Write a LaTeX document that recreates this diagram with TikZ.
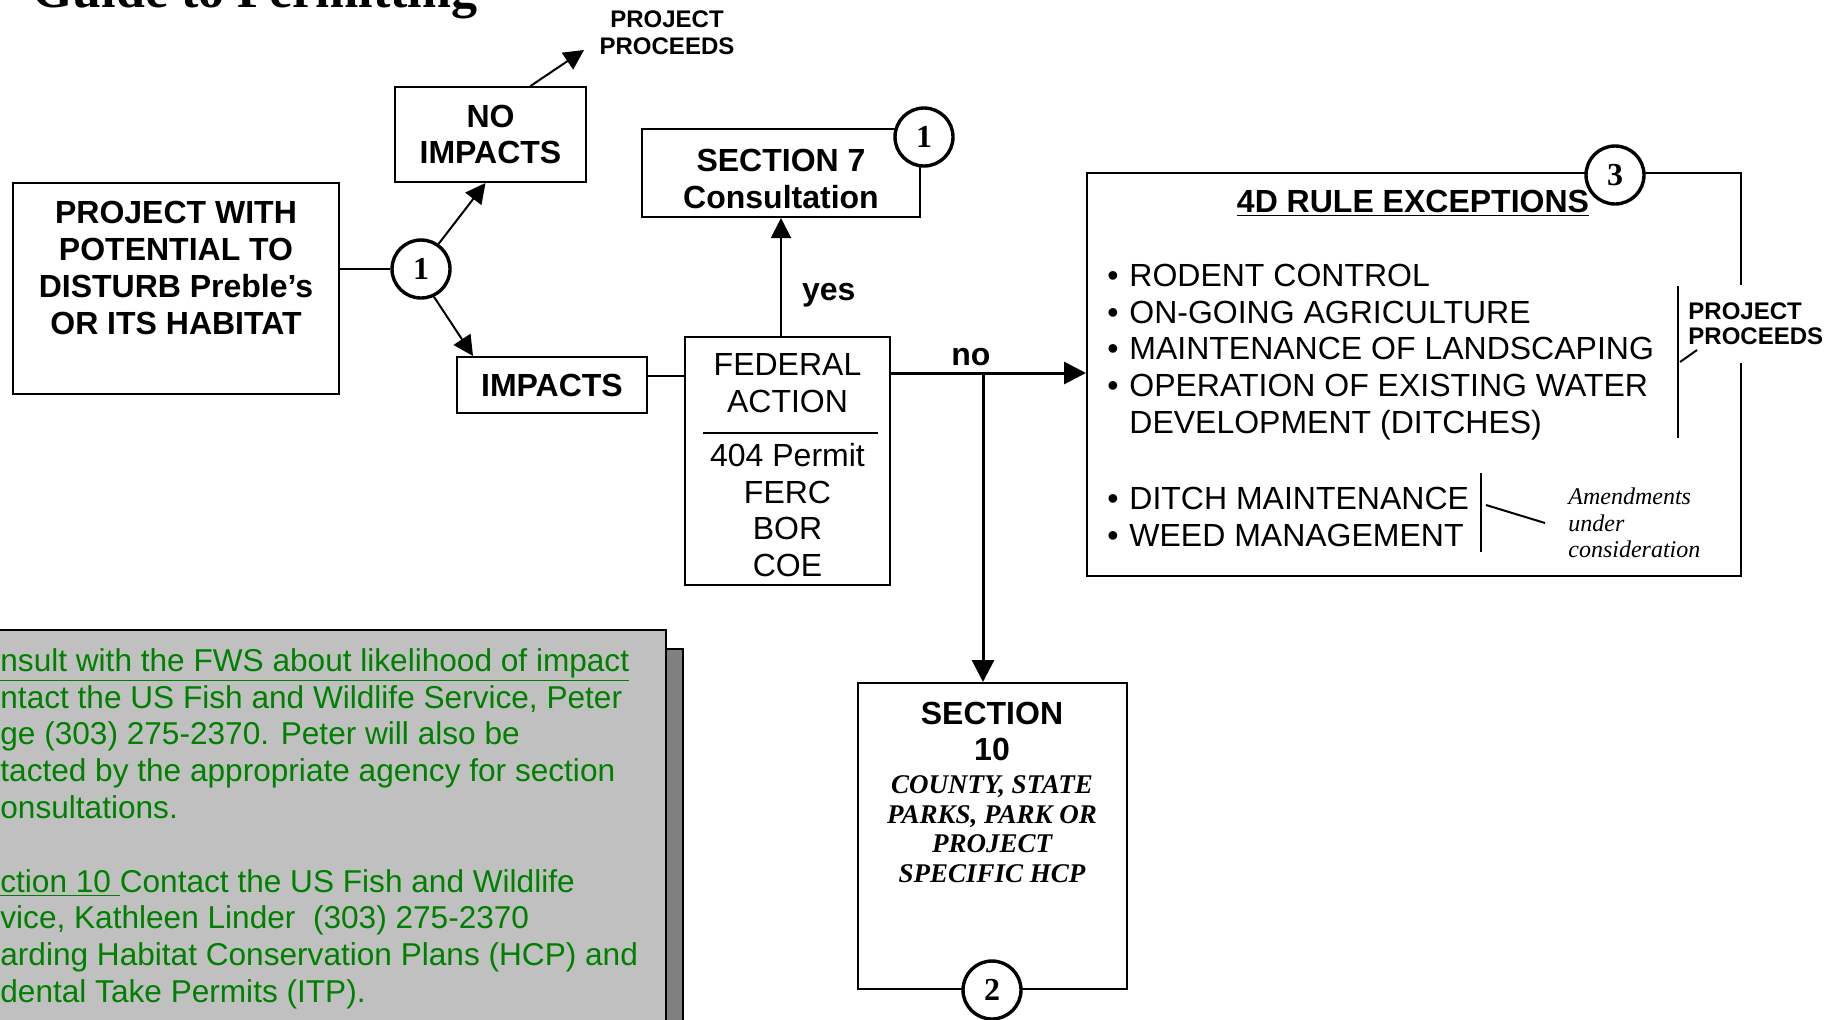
\documentclass[tikz,border=0pt]{standalone}
\usepackage{fontspec}
\setmainfont{Liberation Sans}
\newfontfamily\timesfont{Liberation Serif}
\usetikzlibrary{arrows.meta, positioning, calc}
\definecolor{notegreen}{RGB}{0,128,0}
\definecolor{notegrey}{RGB}{192,192,192}
\definecolor{shadowgrey}{RGB}{128,128,128}
\newcommand{\bitem}{\makebox[11pt][l]{\textbullet}}
\newcommand{\bskip}{\makebox[11pt]{}}

\begin{document}
\begin{tikzpicture}[x=0.5pt, y=-0.5pt,
  flowbox/.style={draw, line width=1pt, inner sep=0pt},
  boxtext/.style={font=\bfseries\fontsize{16}{18.4}\selectfont, align=center, inner sep=0pt},
  plaintext/.style={font=\fontsize{16}{18.4}\selectfont, align=center, inner sep=0pt},
  smallbold/.style={font=\bfseries\fontsize{12}{13.5}\selectfont, align=center, inner sep=0pt},
  lbl/.style={font=\bfseries\fontsize{16}{18}\selectfont, inner sep=0pt},
  stepnum/.style={circle, draw, line width=1.7pt, fill=white, minimum size=29pt, inner sep=0pt, font=\timesfont\bfseries\fontsize{16}{18}\selectfont},
  arr/.style={line width=1pt, -{Triangle[length=10pt, width=10pt]}},
  thickarr/.style={line width=1.5pt, -{Triangle[length=11pt, width=11pt]}}]
  \useasboundingbox (0,0) rectangle (1836,1019);
  \clip (0,0) rectangle (1836,1019);

  % title, cut by the page edge
  \node[font=\timesfont\bfseries\fontsize{26}{30}\selectfont, anchor=base west, inner sep=0pt] (title) at (32,7) {Guide to Permitting};

  % contact note with its shadow
  \draw[fill=shadowgrey, line width=1pt] (12,649) rectangle (683,1040);
  \draw[fill=notegrey, line width=1pt] (-5,630) rectangle (666,1030);
  \node[font=\fontsize{15.8}{18.4}\selectfont, text=notegreen, align=left, anchor=north west, inner sep=0pt] (note) at (0,648) {%
    \underline{nsult with the FWS about likelihood of impact}\\
    ntact the US Fish and Wildlife Service, Peter\\
    ge (303) 275-2370. Peter will also be\\
    tacted by the appropriate agency for section\\
    onsultations.\\
    \mbox{}\\
    \underline{ction 10\ }Contact the US Fish and Wildlife\\
    vice, Kathleen Linder\ \ (303) 275-2370\\
    arding Habitat Conservation Plans (HCP) and\\
    dental Take Permits (ITP).};

  % starting project and first split
  \node[flowbox, minimum width=163pt, minimum height=105.5pt] (proj) at (176,288.5) {};
  \node[boxtext] (projtext) at (176,268) {PROJECT WITH\\POTENTIAL TO\\DISTURB Preble's\\OR ITS HABITAT};
  \node[stepnum] (c1a) at (421,269) {1};
  \node[flowbox, boxtext, minimum width=95.5pt, minimum height=47.5pt] (noimp) at (490.5,134.5) {NO\\IMPACTS};
  \node[smallbold] (proceedA) at (667,33) {PROJECT\\PROCEEDS};
  \coordinate (proceedAtip) at (584,50);
  \node[flowbox, boxtext, minimum width=95pt, minimum height=28pt] (impacts) at (552,385) {IMPACTS};

  % federal action
  \node[flowbox, minimum width=102.5pt, minimum height=124pt] (fed) at (787.5,461) {};
  \node[plaintext] (fedtop) at (787.5,383.5) {FEDERAL\\ACTION};
  \node[plaintext] (fedlist) at (787.5,510) {404 Permit\\FERC\\BOR\\COE};
  \draw[line width=1pt] (703,433) -- (878,433);
  \node[flowbox, minimum width=139pt, minimum height=44pt] (sec7) at (781,173) {};
  \node[boxtext] (sec7text) at (781,179) {SECTION 7\\Consultation};
  \node[stepnum] (c1b) at (924,137) {1};

  % 4D rule exceptions
  \node[flowbox, minimum width=327pt, minimum height=201.5pt] (rules) at (1414,374.5) {};
  \node[boxtext] (rulestitle) at (1413,203) {\underline{4D RULE EXCEPTIONS}};
  \node[stepnum] (c3) at (1615,175) {3};
  \node[plaintext, align=left, anchor=west] (listA) at (1107,352) {\bitem RODENT CONTROL\\\bitem ON-GOING AGRICULTURE\\\bitem MAINTENANCE OF LANDSCAPING\\\bitem OPERATION OF EXISTING WATER\\\bskip DEVELOPMENT (DITCHES)};
  \node[plaintext, align=left, anchor=west] (listB) at (1107,517) {\bitem DITCH MAINTENANCE\\\bitem WEED MANAGEMENT};
  \node[smallbold, align=left, anchor=west, fill=white, minimum height=39pt, inner xsep=1pt, font=\bfseries\fontsize{12}{12.5}\selectfont] (proceedB) at (1686,324) {PROJECT\\PROCEEDS};
  \draw[line width=1pt] (1678,286) -- (1678,438);
  \draw[line width=1pt] (1680,362) -- (1697,350);
  \node[font=\timesfont\itshape\fontsize{12}{13.25}\selectfont, align=left, anchor=west, inner sep=0pt] (amend) at (1568,523) {Amendments\\under\\consideration};
  \draw[line width=1pt] (1481,473) -- (1481,552);
  \draw[line width=1pt] (1486,505) -- ([xshift=-11.5pt]amend.west);

  % section 10
  \node[flowbox, minimum width=134.5pt, minimum height=153pt] (sec10) at (992.5,836) {};
  \node[boxtext] (sec10title) at (992,731.5) {SECTION\\10};
  \node[font=\timesfont\bfseries\itshape\fontsize{13.5}{14.75}\selectfont, align=center, inner sep=0pt] (sec10note) at (992,829) {COUNTY, STATE\\PARKS, PARK OR\\PROJECT\\SPECIFIC HCP};
  \node[stepnum] (c2) at (992,990) {2};

  % connectors
  \draw[line width=1pt] (c1a.west) -- (c1a.west -| proj.east);
  \draw[arr] (c1a.55) -- ([xshift=-2.5pt]noimp.south);
  \draw[arr] ([xshift=20pt]noimp.north) -- (proceedAtip);
  \draw[arr] (c1a.-65) -- ([xshift=8.5pt]impacts.north west);
  \draw[line width=1pt] ([yshift=4.5pt]impacts.east) -- ([yshift=4.5pt]impacts.east -| fed.west);
  \draw[arr] (sec7.south |- fed.north) -- node[pos=0.35, right=10pt, lbl] (yes) {yes} (sec7.south);
  \coordinate (split) at (983,373);
  \draw[thickarr] (fed.east |- split) -- node[pos=0.41, above=3pt, lbl] (no) {no} (split -| rules.west);
  \draw[thickarr] (split) -- (split |- sec10.north);
\end{tikzpicture}
\end{document}
